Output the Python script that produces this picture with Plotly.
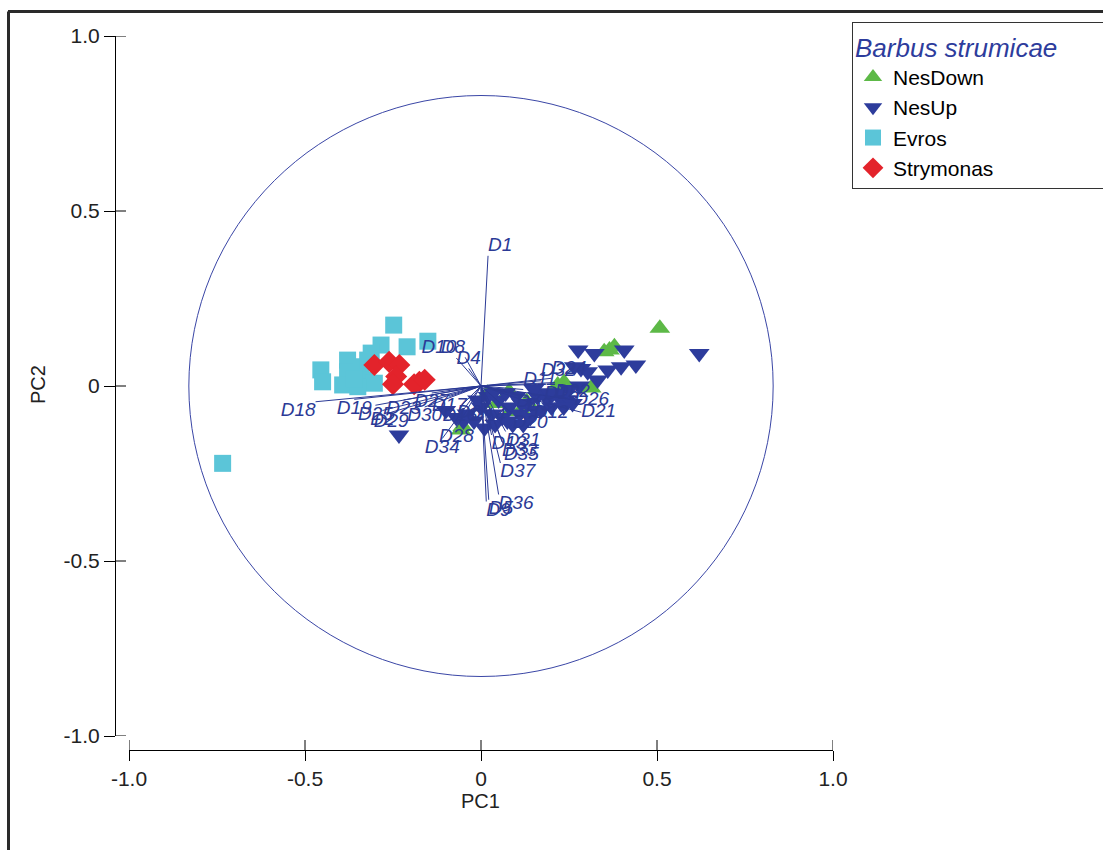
import plotly.graph_objects as go

# ---------------- data (sample scores) ----------------
nesdown_pc1 = [0.508, 0.365, 0.379, 0.350, 0.236, 0.313, -0.057, 0.019, 0.080, 0.085, -0.052, 0.114, 0.218, 0.045, 0.130]
nesdown_pc2 = [0.165, 0.103, 0.112, 0.098, 0.011, -0.006, -0.126, -0.021, -0.016, -0.073, -0.116, -0.069, 0.003, -0.050, -0.045]

nesup_pc1 = [0.620, 0.407, 0.440, 0.276, 0.322, 0.360, 0.284, 0.303, 0.265, 0.331, 0.398, 0.223, 0.180, -0.233,
             -0.10, -0.07, -0.04, -0.02, 0.00, 0.01, 0.03, 0.04, 0.05, 0.06, 0.08, 0.09, 0.10, 0.11, 0.13,
             0.14, 0.16, 0.17, 0.19, 0.20, 0.22, 0.24, 0.25, 0.02, 0.07, 0.12, 0.15, -0.01, 0.26, 0.28,
             -0.05, 0.035, 0.075, 0.115, 0.155, 0.195, 0.235]
nesup_pc2 = [0.093, 0.103, 0.060, 0.103, 0.093, 0.046, 0.050, 0.041, 0.055, 0.017, 0.055, -0.035, -0.020, -0.140,
             -0.07, -0.09, -0.08, -0.10, -0.06, -0.12, -0.08, -0.11, -0.04, -0.09, -0.06, -0.11, -0.03, -0.08, -0.05,
             -0.09, -0.03, -0.07, -0.04, -0.06, -0.02, -0.04, -0.01, -0.03, -0.02, -0.11, -0.01, -0.04, -0.05, 0.00,
             -0.10, -0.02, -0.10, -0.05, -0.07, -0.02, -0.06]

evros_pc1 = [-0.248, -0.151, -0.210, -0.284, -0.312, -0.455, -0.450, -0.379, -0.379, -0.393, -0.341, -0.331,
             -0.303, -0.350, -0.734, -0.322, -0.360]
evros_pc2 = [0.174, 0.128, 0.112, 0.117, 0.094, 0.046, 0.012, 0.074, 0.041, 0.003, 0.055, 0.017,
             0.008, -0.002, -0.221, 0.074, 0.020]

strym_pc1 = [-0.303, -0.261, -0.232, -0.241, -0.175, -0.250, -0.190, -0.160]
strym_pc2 = [0.060, 0.069, 0.060, 0.027, 0.012, 0.005, 0.005, 0.018]

# ---------------- data (variable loadings) ----------------
vec_names = ["D1", "D18", "D19", "D25", "D29", "D23", "D30", "D27", "D17", "D16", "D28", "D34",
             "D10", "D8", "D4", "D32", "D24", "D26", "D21", "D13", "D31", "D33", "D35", "D37",
             "D36", "D9", "D5", "D20", "D12", "D14", "D6", "D3", "D7", "D11", "D15", "D22", "D2"]
vec_pc1 = [0.020, -0.470, -0.360, -0.300, -0.255, -0.220, -0.160, -0.140, -0.090, -0.060, -0.070, -0.110,
           -0.070, -0.045, -0.035, 0.170, 0.200, 0.265, 0.285, 0.030, 0.070, 0.060, 0.065, 0.055,
           0.050, 0.015, 0.022, 0.090, 0.150, 0.020, 0.000, 0.130, 0.100, 0.120, 0.180, 0.210, -0.280]
vec_pc2 = [0.372, -0.045, -0.038, -0.055, -0.075, -0.040, -0.060, -0.020, -0.030, -0.060, -0.120, -0.150,
           0.080, 0.082, 0.050, 0.015, 0.022, -0.040, -0.075, -0.140, -0.130, -0.160, -0.170, -0.220,
           -0.310, -0.330, -0.325, -0.080, -0.050, -0.060, -0.050, -0.030, -0.020, -0.010, 0.005, 0.010, -0.070]

circle_radius = 0.83

x_ticks = [-1.0, -0.5, 0.0, 0.5, 1.0]
x_ticktext = ["-1.0", "-0.5", "0", "0.5", "1.0"]
y_ticks = [-1.0, -0.5, 0.0, 0.5, 1.0]
y_ticktext = ["-1.0", "-0.5", "0", "0.5", "1.0"]

# ---------------- styling ----------------
W, H = 1103, 850
label_pos = ["top right", "bottom left", "bottom center", "bottom center", "bottom center", "bottom center",
             "bottom center", "bottom center", "bottom center", "bottom center", "bottom center", "bottom center",
             "top left", "top left", "top center", "top right", "top right", "middle right", "middle right",
             "bottom right", "bottom right", "bottom right", "bottom right", "bottom right", "bottom right",
             "bottom right", "bottom right", "bottom right", "bottom right", "bottom center", "bottom left",
             "bottom right", "bottom right", "top right", "bottom right", "bottom right", "bottom center"]

GREEN = "#5DB947"
BLUE = "#2D3C9C"
CYAN = "#5BC5D8"
RED = "#E3232B"
VEC = "#2B3A96"
FONT = "Liberation Sans, Arial, sans-serif"

fig = go.Figure()

# sample scores
fig.add_trace(go.Scatter(x=nesdown_pc1, y=nesdown_pc2, mode="markers", name="NesDown",
                         marker=dict(symbol="triangle-up", size=18, color=GREEN)))
fig.add_trace(go.Scatter(x=nesup_pc1, y=nesup_pc2, mode="markers", name="NesUp",
                         marker=dict(symbol="triangle-down", size=18, color=BLUE)))
fig.add_trace(go.Scatter(x=evros_pc1, y=evros_pc2, mode="markers", name="Evros",
                         marker=dict(symbol="square", size=17, color=CYAN)))
fig.add_trace(go.Scatter(x=strym_pc1, y=strym_pc2, mode="markers", name="Strymonas",
                         marker=dict(symbol="diamond", size=17, color=RED)))

# loading vectors
lx, ly = [], []
for vx, vy in zip(vec_pc1, vec_pc2):
    lx += [0, vx, None]
    ly += [0, vy, None]
fig.add_trace(go.Scatter(x=lx, y=ly, mode="lines", line=dict(color=VEC, width=1),
                         showlegend=False, hoverinfo="skip"))
fig.add_trace(go.Scatter(x=vec_pc1, y=vec_pc2, mode="text", text=vec_names, textposition=label_pos,
                         textfont=dict(family=FONT, size=19, color=VEC, style="italic"),
                         showlegend=False, hoverinfo="skip"))

# equilibrium circle
fig.add_shape(type="circle", xref="x", yref="y", x0=-circle_radius, x1=circle_radius,
              y0=-circle_radius, y1=circle_radius, line=dict(color="#3A46A6", width=1), layer="below")

# geometry of the detached axes
x_dom = [129 / W, 833 / W]
y_dom = [1 - 736 / H, 1 - 36 / H]
x_pos = 1 - 750 / H
y_pos = 115 / W

# inner half of crossing ticks
for t in y_ticks:
    fig.add_shape(type="line", xref="paper", yref="y", x0=y_pos, x1=(115 + 11) / W, y0=t, y1=t,
                  line=dict(color="black", width=1))
for t in x_ticks:
    fig.add_shape(type="line", xref="x", yref="paper", x0=t, x1=t, y0=x_pos, y1=1 - 740 / H,
                  line=dict(color="black", width=1))

# outer frame (top and left edges visible)
fig.add_shape(type="line", xref="paper", yref="paper", x0=8 / W, x1=1.0, y0=1 - 11.5 / H, y1=1 - 11.5 / H,
              line=dict(color="#2a2a2a", width=3))
fig.add_shape(type="line", xref="paper", yref="paper", x0=8.5 / W, x1=8.5 / W, y0=0, y1=1 - 11.5 / H,
              line=dict(color="#2a2a2a", width=3))

# axis titles
fig.add_annotation(text="PC1", xref="paper", yref="paper", x=480 / W, y=1 - 801 / H, showarrow=False,
                   xanchor="center", yanchor="middle",
                   font=dict(family=FONT, size=20, color="#222"))
fig.add_annotation(text="PC2", xref="paper", yref="paper", x=38 / W, y=1 - 385 / H, showarrow=False,
                   xanchor="center", yanchor="middle", textangle=-90,
                   font=dict(family=FONT, size=20, color="#222"))

fig.update_layout(
    width=W, height=H,
    margin=dict(l=0, r=0, t=0, b=0, autoexpand=False),
    paper_bgcolor="white", plot_bgcolor="white",
    font=dict(family=FONT),
    hovermode=False,
    xaxis=dict(domain=x_dom, range=[-1, 1], anchor="free", position=x_pos,
               showgrid=False, zeroline=False, showline=True, linecolor="black", linewidth=1,
               ticks="outside", ticklen=10, tickwidth=1, tickcolor="black",
               tickvals=x_ticks, ticktext=x_ticktext, automargin=False,
               tickfont=dict(family=FONT, size=21, color="#222")),
    yaxis=dict(domain=y_dom, range=[-1, 1], anchor="free", position=y_pos,
               showgrid=False, zeroline=False, showline=True, linecolor="black", linewidth=1,
               ticks="outside", ticklen=11, tickwidth=1, tickcolor="black",
               tickvals=y_ticks, ticktext=y_ticktext, automargin=False,
               tickfont=dict(family=FONT, size=21, color="#222")),
    legend=dict(x=852 / W, y=1 - 22 / H, xanchor="left", yanchor="top",
                bordercolor="#333", borderwidth=1, bgcolor="white",
                font=dict(family=FONT, size=21, color="black"),
                title=dict(text="<i>Barbus strumicae</i>&nbsp;&nbsp;&nbsp;&nbsp;&nbsp;&nbsp;&nbsp;",
                           font=dict(family=FONT, size=26, color="#2D3C9C"))),
)

fig.write_html("out.html")
